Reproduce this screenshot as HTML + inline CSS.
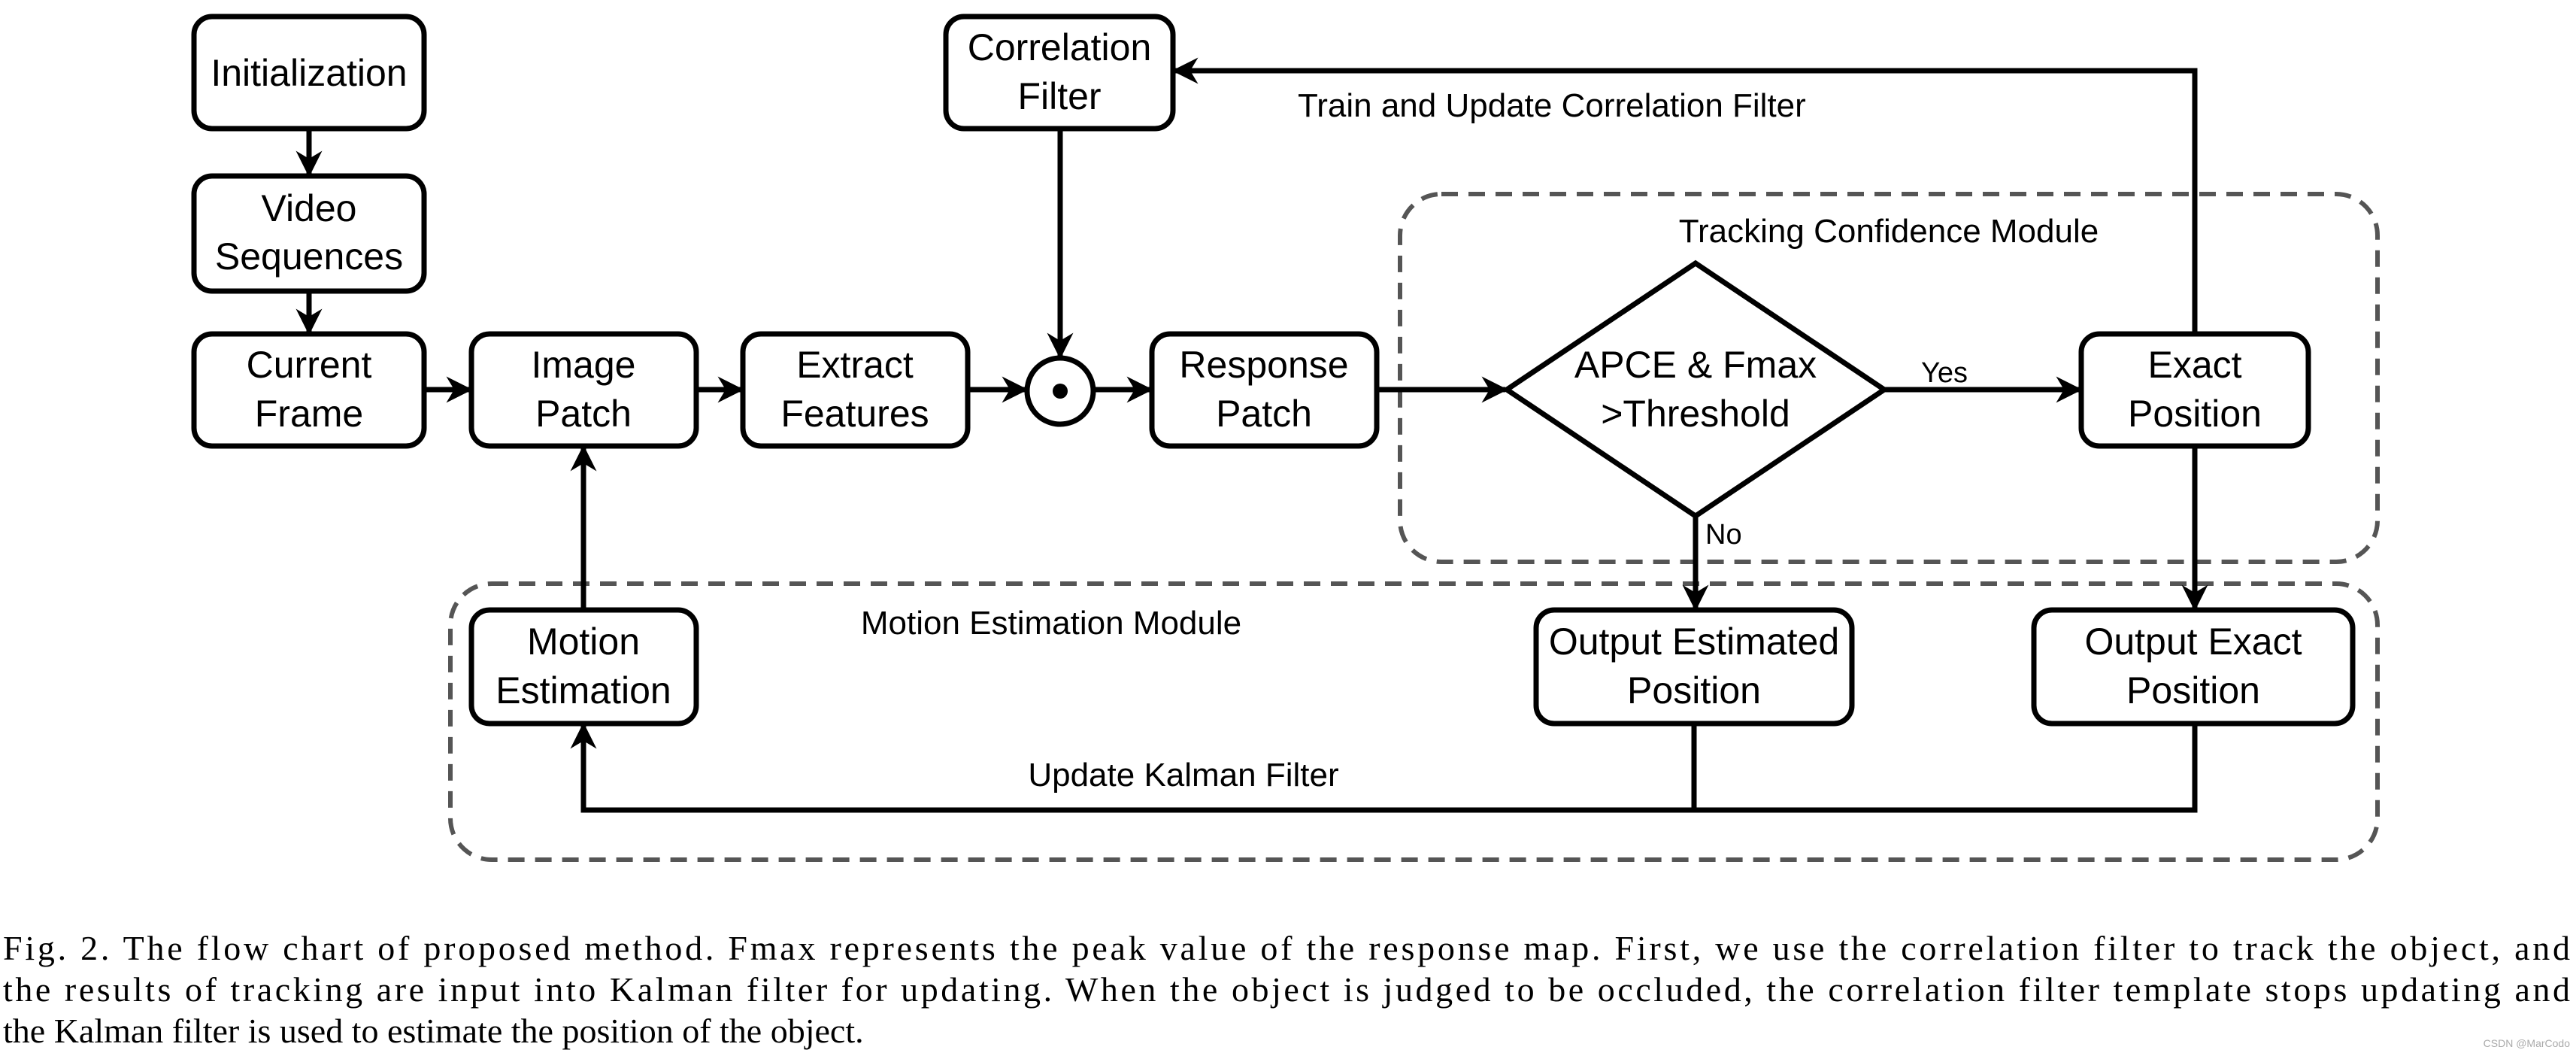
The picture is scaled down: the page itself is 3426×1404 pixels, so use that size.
<!DOCTYPE html>
<html><head><meta charset="utf-8"><style>
html,body{margin:0;padding:0;background:#fff;}
svg{display:block;}
.b{font-family:"Liberation Sans",Arial,sans-serif;font-size:50px;fill:#000;}
.c{font-family:"Liberation Serif","Times New Roman",serif;font-size:46px;fill:#000;}
</style></head><body>
<svg width="3426" height="1404" viewBox="0 0 3426 1404" xmlns="http://www.w3.org/2000/svg">
<defs>
<marker id="a" viewBox="0 0 10 10" refX="9" refY="5" markerWidth="5" markerHeight="5" orient="auto" markerUnits="strokeWidth">
<path d="M0,0 L10,5 L0,10 L3,5 Z" fill="#000"/></marker>
</defs>
<g fill="none" stroke="#555" stroke-width="6" stroke-dasharray="22,14">
<rect x="1862" y="258" width="1300" height="489" rx="55"/>
<rect x="599" y="776" width="2563" height="367" rx="55"/>
</g>
<g fill="#fff" stroke="#000" stroke-width="7">
<rect x="258" y="22" width="306" height="149" rx="24"/>
<rect x="258" y="234" width="306" height="153" rx="24"/>
<rect x="258" y="444" width="306" height="149" rx="24"/>
<rect x="627" y="444" width="299" height="149" rx="24"/>
<rect x="988" y="444" width="299" height="149" rx="24"/>
<rect x="1532" y="444" width="299" height="149" rx="24"/>
<rect x="1258" y="22" width="302" height="149" rx="24"/>
<rect x="2768" y="444" width="302" height="149" rx="24"/>
<rect x="627" y="811" width="299" height="151" rx="24"/>
<rect x="2043" y="811" width="420" height="151" rx="24"/>
<rect x="2705" y="811" width="424" height="151" rx="24"/>
<polygon points="2004,518 2255,350 2506,518 2255,686"/>
<circle cx="1410" cy="520" r="44"/>
</g>
<circle cx="1410" cy="520" r="10" fill="#000"/>
<g stroke="#000" stroke-width="7" fill="none" marker-end="url(#a)">
<line x1="411" y1="171" x2="411" y2="232"/>
<line x1="411" y1="387" x2="411" y2="442"/>
<line x1="564" y1="518" x2="625" y2="518"/>
<line x1="926" y1="518" x2="986" y2="518"/>
<line x1="1287" y1="518" x2="1364" y2="518"/>
<line x1="1454" y1="518" x2="1530" y2="518"/>
<line x1="1831" y1="518" x2="2002" y2="518"/>
<line x1="2506" y1="518" x2="2766" y2="518"/>
<line x1="1410" y1="171" x2="1410" y2="474"/>
<polyline points="2919,444 2919,94 1562,94"/>
<line x1="776" y1="811" x2="776" y2="595"/>
<line x1="2255" y1="686" x2="2255" y2="809"/>
<line x1="2919" y1="593" x2="2919" y2="809"/>
<polyline points="2919,962 2919,1077 776,1077 776,964"/>
</g>
<line x1="2253" y1="962" x2="2253" y2="1077" stroke="#000" stroke-width="7"/>
<g class="b" text-anchor="middle">
<text x="411" y="114">Initialization</text>
<text x="411" y="294">Video</text><text x="411" y="358">Sequences</text>
<text x="411" y="502">Current</text><text x="411" y="567">Frame</text>
<text x="776" y="502">Image</text><text x="776" y="567">Patch</text>
<text x="1137" y="502">Extract</text><text x="1137" y="567">Features</text>
<text x="1681" y="502">Response</text><text x="1681" y="567">Patch</text>
<text x="1409" y="80">Correlation</text><text x="1409" y="145">Filter</text>
<text x="2919" y="502">Exact</text><text x="2919" y="567">Position</text>
<text x="2255" y="502">APCE &amp; Fmax</text><text x="2255" y="567">&gt;Threshold</text>
<text x="776" y="870">Motion</text><text x="776" y="935">Estimation</text>
<text x="2253" y="870">Output Estimated</text><text x="2253" y="935">Position</text>
<text x="2917" y="870">Output Exact</text><text x="2917" y="935">Position</text>
</g>
<g class="b" style="font-size:44px">
<text x="1726" y="155">Train and Update Correlation Filter</text>
<text x="2512" y="322" text-anchor="middle">Tracking Confidence Module</text>
<text x="1398" y="843" text-anchor="middle">Motion Estimation Module</text>
<text x="1574" y="1045" text-anchor="middle">Update Kalman Filter</text>
<text x="2555" y="508" style="font-size:38px">Yes</text>
<text x="2268" y="723" style="font-size:38px">No</text>
</g>
<g class="c">
<text x="4" y="1276" textLength="3414" lengthAdjust="spacing">Fig. 2.  The flow chart of proposed method. Fmax represents the peak value of the response map. First, we use the correlation filter to track the object, and</text>
<text x="4" y="1331" textLength="3414" lengthAdjust="spacing">the results of tracking are input into Kalman filter for updating. When the object is judged to be occluded, the correlation filter template stops updating and</text>
<text x="4" y="1386">the Kalman filter is used to estimate the position of the object.</text>
</g>
<text x="3418" y="1392" text-anchor="end" style="font-family:'Liberation Sans',sans-serif;font-size:14px;fill:#aaa">CSDN @MarCodo</text>
</svg>
</body></html>
